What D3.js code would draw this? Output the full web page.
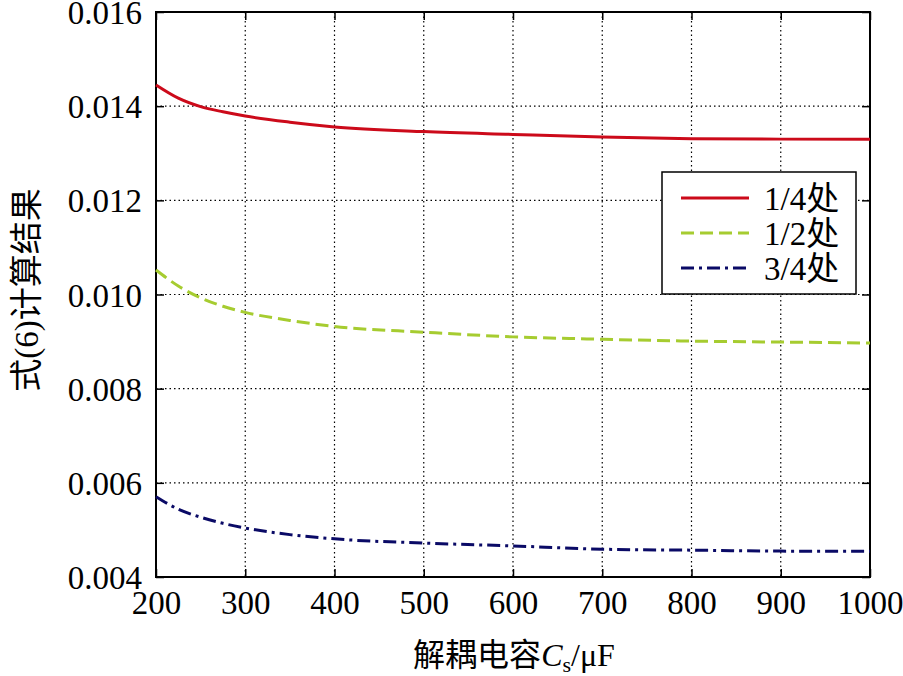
<!DOCTYPE html>
<html><head><meta charset="utf-8">
<script src="https://cdn.jsdelivr.net/npm/d3@7"></script>
<style>body{margin:0;background:#fff}
svg text{font-family:"Liberation Serif","Times New Roman","Noto Sans CJK SC",serif;}
</style>
</head><body>
<svg id="c" width="903" height="676"></svg>
<script>
const capacitance = [200, 225, 250, 275, 300, 350, 400, 500, 600, 700, 800, 900, 1000];
const quarter      = [0.01445, 0.01417, 0.01399, 0.01388, 0.01379, 0.01366, 0.01356, 0.01346, 0.01340, 0.013345, 0.01331, 0.01330, 0.01330];
const half         = [0.01052, 0.01018, 0.00993, 0.00975, 0.00962, 0.00945, 0.00932, 0.00920, 0.00910, 0.00905, 0.00901, 0.00899, 0.00897];
const threeQuarter = [0.005705, 0.00544, 0.00527, 0.00514, 0.00504, 0.00490, 0.00481, 0.00472, 0.00466, 0.00459, 0.00457, 0.00455, 0.004545];
const xTicks = [200, 300, 400, 500, 600, 700, 800, 900, 1000];
const yTicks = [0.004, 0.006, 0.008, 0.010, 0.012, 0.014, 0.016];
const seriesNames = ["1/4处", "1/2处", "3/4处"];

const svg = d3.select("#c");
const L = 156, R = 870, T = 12, B = 577;
const x = d3.scaleLinear().domain([200, 1000]).range([L, R]);
const y = d3.scaleLinear().domain([0.004, 0.016]).range([B, T]);

// grid
const g = svg.append("g");
g.selectAll("line.vx").data(xTicks.slice(1, -1)).join("line")
  .attr("x1", d => x(d)).attr("x2", d => x(d)).attr("y1", T).attr("y2", B)
  .attr("stroke", "#000").attr("stroke-width", 1.2).attr("stroke-dasharray", "1.5,3");
g.selectAll("line.hy").data(yTicks.slice(1, -1)).join("line")
  .attr("y1", d => y(d)).attr("y2", d => y(d)).attr("x1", L).attr("x2", R)
  .attr("stroke", "#000").attr("stroke-width", 1.2).attr("stroke-dasharray", "1.5,3");

// axes with inward ticks
const ax = (gen, tr) => svg.append("g").attr("transform", tr).call(gen)
  .call(s => s.select(".domain").remove()).attr("font-family", null);
const xb = ax(d3.axisBottom(x).tickValues(xTicks).tickSizeInner(-8).tickSizeOuter(0).tickPadding(14).tickFormat(d3.format("d")), `translate(0,${B})`);
const xt = ax(d3.axisTop(x).tickValues(xTicks).tickSizeInner(-8).tickSizeOuter(0).tickFormat(""), `translate(0,${T})`);
const yl = ax(d3.axisLeft(y).tickValues(yTicks).tickSizeInner(-8).tickSizeOuter(0).tickPadding(14).tickFormat(d3.format(".3f")), `translate(${L},0)`);
const yr = ax(d3.axisRight(y).tickValues(yTicks).tickSizeInner(-8).tickSizeOuter(0).tickFormat(""), `translate(${R},0)`);
[xb, xt, yl, yr].forEach(a => {
  a.selectAll("line").attr("stroke", "#000").attr("stroke-width", 1.5);
  a.selectAll("text").style("font-size", "33px").attr("fill", "#000");
});
xb.selectAll("text").attr("dy", "0.71em");
yl.selectAll("text").attr("dy", "0.35em");

// frame
svg.append("rect").attr("x", L).attr("y", T).attr("width", R - L).attr("height", B - T)
  .attr("fill", "none").attr("stroke", "#000").attr("stroke-width", 2);

// curves
const styles = [
  {data: quarter, color: "#cc0a1a", dash: null},
  {data: half, color: "#a6cc30", dash: "13,6"},
  {data: threeQuarter, color: "#0a0a66", dash: "13,5,3,5"}
];
const line = d3.line().x((d, i) => x(capacitance[i])).y(d => y(d)).curve(d3.curveMonotoneX);
styles.forEach(s => {
  svg.append("path").attr("d", line(s.data)).attr("fill", "none")
    .attr("stroke", s.color).attr("stroke-width", 3)
    .attr("stroke-dasharray", s.dash);
});

// legend
const lg = svg.append("g");
lg.append("rect").attr("x", 662).attr("y", 172).attr("width", 194).attr("height", 122)
  .attr("fill", "#fff").attr("stroke", "#000").attr("stroke-width", 1.5);
styles.forEach((s, i) => {
  const yy = 198 + i * 35;
  lg.append("line").attr("x1", 681).attr("x2", 749).attr("y1", yy).attr("y2", yy)
    .attr("stroke", s.color).attr("stroke-width", 3).attr("stroke-dasharray", s.dash);
  lg.append("text").attr("x", 764).attr("y", yy).attr("dy", "0.36em")
    .style("font-size", "33px").text(seriesNames[i]);
});

// axis titles
const xt2 = svg.append("text").attr("x", 514).attr("y", 666).attr("text-anchor", "middle")
  .style("font-size", "32px");
xt2.append("tspan").text("解耦电容");
xt2.append("tspan").style("font-style", "italic").text("C");
xt2.append("tspan").style("font-size", "22px").attr("dy", 6).text("s");
xt2.append("tspan").attr("dy", -6).text("/μF");

svg.append("text").attr("transform", "translate(38,290) rotate(-90)").attr("text-anchor", "middle")
  .style("font-size", "33px").text("式(6)计算结果");
</script>
</body></html>
